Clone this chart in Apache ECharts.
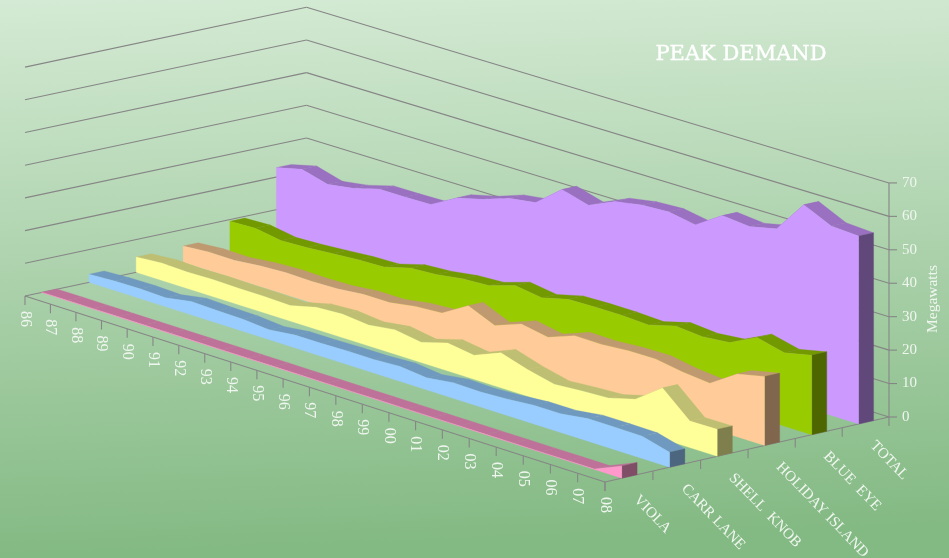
<!DOCTYPE html>
<html><head><meta charset="utf-8">
<style>html,body{margin:0;padding:0;background:#fff}#c{width:949px;height:558px}</style>
<script src="https://cdn.jsdelivr.net/npm/echarts@6/dist/echarts.min.js"></script>
</head><body><div id="c"></div>
<script>
var years=['86','87','88','89','90','91','92','93','94','95','96','97','98','99','00','01','02','03','04','05','06','07','08'];
var depthNames=['VIOLA','CARR LANE','SHELL  KNOB','HOLIDAY ISLAND','BLUE  EYE','TOTAL'];
var valueTicks=[0,10,20,30,40,50,60,70];
var viola=[0.1,0.1,0.1,0.1,0.1,0.1,0.1,0.1,0.1,0.1,0.1,0.1,0.1,0.1,0.1,0.1,0.1,0.1,0.1,0.1,0.1,0.1,3.6];
var carrLane=[2.5,2.9,3,2.7,4.1,3.8,3.7,3,3.9,3.9,4.1,4.1,4.5,3.6,4.7,4.5,4.9,5.6,5.6,6.7,6.7,6.6,4.4];
var shellKnob=[4.7,5.3,5,5.2,5,5,4.7,6.7,7.1,6.3,7.4,6.1,8.4,7.2,10.5,8,6.1,6.7,7.1,9.3,15.2,7.9,8];
var holidayIsland=[5,5.6,5.5,6.3,6.7,6.5,6.7,7.5,7.5,8.8,9.3,14,10.5,13.5,12,15,14.9,15.5,15.6,14.2,13.4,18.7,20.5];
var blueEye=[9.5,9.8,8.5,8.8,9.4,10,10.2,12.4,12.9,14.1,14.5,17,15.8,17.8,18,18,17.6,19.8,19.1,19.9,23.9,21.9,23.7];
var total=[22.9,24.8,22.6,23.8,26,26,26.2,30.6,32.6,35.4,36.5,42.9,40.6,44.2,45.6,46,44.6,49.8,49,50.8,60.5,56.6,56.1];
var seriesValues=[viola,carrLane,shellKnob,holidayIsland,blueEye,total];
var frontColors=['#FF99CC','#99CCFF','#FFFF99','#FFCC99','#99CC00','#CC99FF'];
var topColors=['#BF7299','#7099BF','#BFBF73','#BF9970','#729900','#9A70C0'];
var sideColors=['#7F4D66','#4D667F','#7F7F4D','#7F664D','#4D6600','#60497A'];

// Frame of the 3D box: floor corners on screen and height of one value unit at each corner
var A=[25,296],B=[605,482],C=[889,417],D=[306.5,236];
var unitA=3.27,unitB=3.39,unitC=3.344,unitD=3.267;
var GAP_FRONT=0.35,GAP_BACK=0.67,tMax=years.length-1,vMax=70,sMax=depthNames.length;
var sx=A[0]-B[0]+C[0]-D[0],sy=A[1]-B[1]+C[1]-D[1];
var dx1=B[0]-C[0],dx2=D[0]-C[0],dy1=B[1]-C[1],dy2=D[1]-C[1];
var det=dx1*dy2-dx2*dy1;
var g=(sx*dy2-dx2*sy)/det,h=(dx1*sy-sx*dy1)/det;
var a11=B[0]-A[0]+g*B[0],a12=D[0]-A[0]+h*D[0],a21=B[1]-A[1]+g*B[1],a22=D[1]-A[1]+h*D[1];
function proj(u,s,v){
  var w=1+g*u+h*s;
  var unit=(1-s)*((1-u)*unitA+u*unitB)+s*((1-u)*unitD+u*unitC);
  return [(A[0]+a11*u+a12*s)/w,(A[1]+a21*u+a22*s)/w-v*unit];
}
// axis scale -> box: read the year index and value through the hidden cartesian axes
function mapper(params,api){
  var cs=params.coordSys;
  return function(t,sIdx,v){
    var p=api.coord([t,v]);
    return proj((p[0]-cs.x)/cs.width,sIdx/sMax,vMax*(1-(p[1]-cs.y)/cs.height));
  };
}
var LINE='#868686',TXT='#EFF6EF';
function seg(p,q){return {type:'line',shape:{x1:p[0],y1:p[1],x2:q[0],y2:q[1]},style:{stroke:LINE,lineWidth:1.1},silent:true};}
function label(text,p,rot,align,size,color,font,stroke){
  var st={text:text,fill:color||TXT,font:(size||15)+'px '+(font||'"Liberation Serif"'),align:align||'left',verticalAlign:'middle'};
  if(stroke){st.stroke=color;st.lineWidth=stroke;}
  return {type:'text',x:p[0],y:p[1],rotation:rot*Math.PI/180,silent:true,style:st};
}
function renderFrame(params,api){
  var m=mapper(params,api),ch=[];
  valueTicks.forEach(function(v){
    ch.push(seg(m(0,0,v),m(0,sMax,v)));
    ch.push(seg(m(0,sMax,v),m(tMax,sMax,v)));
    var r=m(tMax,sMax,v);
    ch.push(seg(r,[r[0]+8,r[1]]));
    ch.push(label(String(v),[r[0]+13,r[1]],0,'left',15));
  });
  ch.push(seg(m(tMax,sMax,0),m(tMax,sMax,vMax)));
  ch.push(seg(m(0,0,0),m(tMax,0,0)));
  ch.push(seg(m(tMax,0,0),m(tMax,sMax,0)));
  years.forEach(function(y,i){
    var p=m(i,0,0);
    ch.push(seg(p,[p[0],p[1]+9]));
    ch.push(label(y,[p[0],p[1]+15],-90,'left',16));
  });
  for(var s=0;s<=sMax;s++){var p=m(tMax,s,0);ch.push(seg(p,[p[0],p[1]+9]));}
  depthNames.forEach(function(n,i){
    var p=m(tMax,i+0.5,0);
    ch.push(label(n,[p[0]+7,p[1]+21],-46,'left',15));
  });
  ch.push(label('Megawatts',[933,299],90,'center',15.5));
  ch.push(label('PEAK DEMAND',[741,55],0,'center',21,'#FFFFFF','"DejaVu Serif"',0.4));
  return {type:'group',children:ch};
}
function poly(points,fill,z){
  return {type:'polygon',z2:z,silent:true,shape:{points:points},style:{fill:fill,stroke:fill,lineWidth:0.3}};
}
function renderArea(k){
  return function(params,api){
    var i=params.dataIndex,vals=seriesValues[k],m=mapper(params,api);
    var f=k+GAP_FRONT,b=k+GAP_BACK,ch=[];
    if(i<vals.length-1){
      ch.push(poly([m(i,f,vals[i]),m(i+1,f,vals[i+1]),m(i+1,b,vals[i+1]),m(i,b,vals[i])],topColors[k],1));
    } else {
      ch.push(poly([m(i,f,0),m(i,b,0),m(i,b,vals[i]),m(i,f,vals[i])],sideColors[k],2));
    }
    if(i===0){
      var pts=[m(0,f,0)];
      vals.forEach(function(v,t){pts.push(m(t,f,v));});
      pts.push(m(vals.length-1,f,0));
      ch.push(poly(pts,frontColors[k],3));
    }
    return {type:'group',children:ch};
  };
}
var series=[{type:'custom',name:'frame',renderItem:renderFrame,data:[[0,0]],silent:true,z:1,animation:false,clip:false}];
for(var k=sMax-1;k>=0;k--){
  series.push({type:'custom',name:depthNames[k],renderItem:renderArea(k),z:2+(sMax-k),silent:true,animation:false,clip:false,
    data:seriesValues[k].map(function(v,t){return [t,v];})});
}
var chart=echarts.init(document.getElementById('c'),null,{renderer:'canvas'});
chart.setOption({
  animation:false,
  backgroundColor:{type:'linear',x:0,y:0,x2:0.02,y2:1,colorStops:[{offset:0,color:'#D4EAD4'},{offset:1,color:'#83B983'}]},
  tooltip:{show:false},legend:{show:false},
  grid:{left:0,top:0,right:0,bottom:0},
  xAxis:{type:'value',min:0,max:tMax,show:false},
  yAxis:{type:'value',min:0,max:vMax,show:false},
  series:series
});
</script></body></html>
